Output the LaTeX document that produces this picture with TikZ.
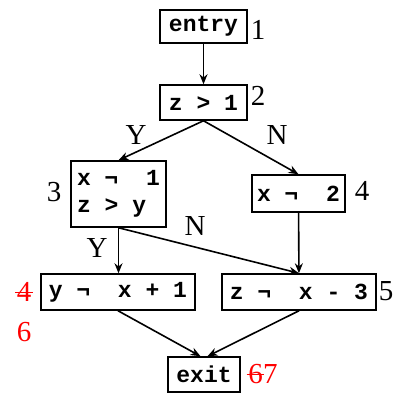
\documentclass[tikz,border=0pt]{standalone}
\usepackage{fontspec}
\setmainfont{Liberation Serif}
\newfontfamily\codefont{Liberation Mono}
\usetikzlibrary{arrows.meta}

\tikzset{
  blk/.style={draw, line width=1.5pt, inner sep=0pt, minimum height=34pt,
    font=\codefont\bfseries\fontsize{23}{27}\selectfont},
  lbl/.style={inner sep=0pt, font=\fontsize{29}{30}\selectfont},
  fix/.style={lbl, text=red},
  arr/.style={-{Stealth[length=10pt,width=8pt]}, line width=1.6pt},
}

\begin{document}
\begin{tikzpicture}[x=1pt, y=-1pt]
\useasboundingbox (0,0) rectangle (411,394);

% blocks
\node[blk, minimum width=87pt, minimum height=33pt] (entry) at (203.5,26.5) {entry};
\node[blk, minimum width=87pt, minimum height=35pt] (cond) at (203.5,102.5) {z > 1};
\node[blk, minimum width=95pt, minimum height=66pt, align=left] (b3) at (118.5,194) {x ¬~ 1\\z > y};
\node[blk, minimum width=93pt, minimum height=37pt] (b4) at (298.5,193.5) {x ¬~ 2};
\node[blk, minimum width=154pt, minimum height=36pt] (b6) at (118,292) {y ¬~ x + 1};
\node[blk, minimum width=154pt, minimum height=36pt] (b5) at (299,292) {z ¬~ x - 3};
\node[blk, minimum width=72pt, minimum height=35pt] (exit) at (204,374.5) {exit};

% numbers
\node[lbl] (n1) at (258,30) {1};
\node[lbl] (n2) at (258,96) {2};
\node[lbl] (n3) at (54,192) {3};
\node[lbl] (n4) at (362,191) {4};
\node[lbl] (n5) at (386,291) {5};

% branch labels
\node[lbl] (yes1) at (136,135) {Y};
\node[lbl] (no1) at (277,135) {N};
\node[lbl] (no2) at (195,226) {N};
\node[lbl] (yes2) at (97,248) {Y};

% renumbering
\node[fix] (old4) at (24,292) {4};
\draw[red, line width=1pt] ([xshift=-1.5pt]old4.west) -- ([xshift=1.5pt]old4.east);
\node[fix] (new6) at (24,332) {6};
\node[fix, anchor=east] (old6) at (263,374) {6};
\node[fix, anchor=west] (new7) at (old6.east) {7};
\draw[red, line width=1pt] ([xshift=-1.5pt]old6.west) -- ([xshift=1pt]old6.east);

% edges
\draw[arr] (entry) -- (cond);
\draw[arr] (cond.south) -- (b3.north);
\draw[arr] (cond.south) -- (b4.north);
\draw[arr] (b3.south) -- (b3.south |- b6.north);
\draw[arr] (b3.south) -- (b5.north);
\draw[arr] (b4) -- (b5);
\draw[arr] (b6.south) -- ([xshift=-3.5pt]exit.north);
\draw[arr] (b5.south) -- ([xshift=3.5pt]exit.north);

\end{tikzpicture}
\end{document}
